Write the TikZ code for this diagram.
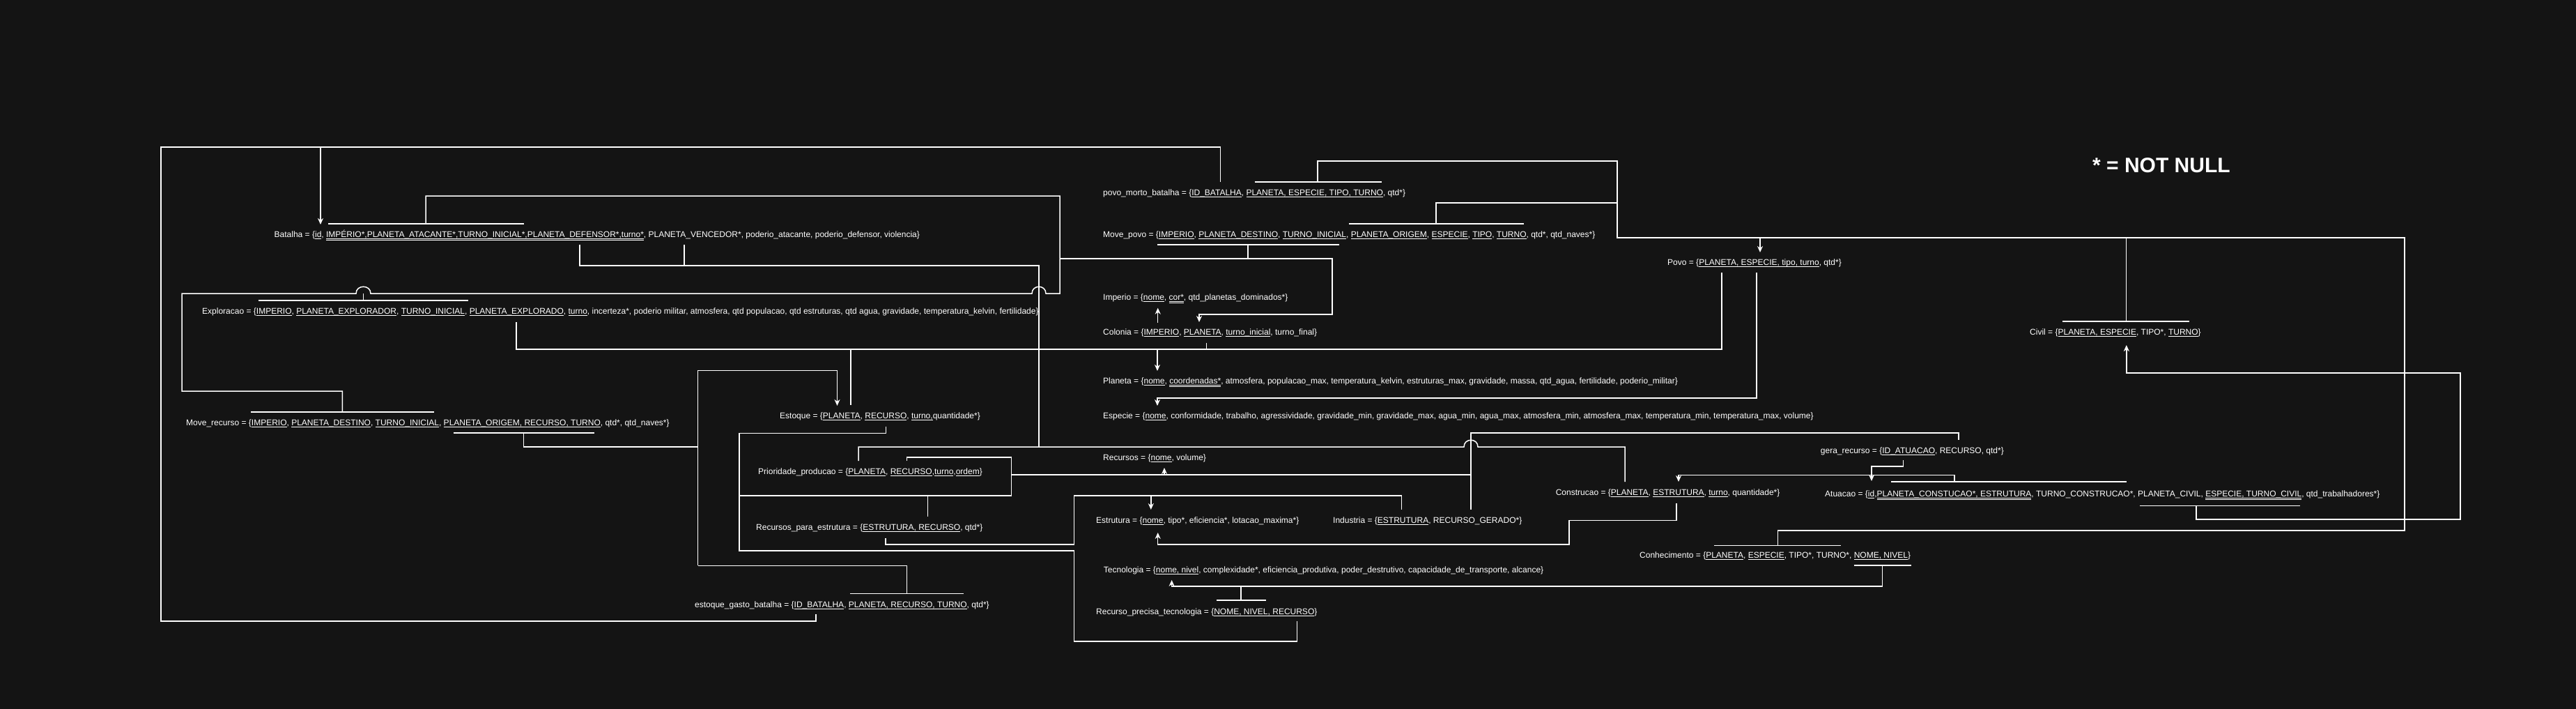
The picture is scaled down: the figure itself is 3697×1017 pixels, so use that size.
\documentclass[tikz,border=0pt]{standalone}
\usepackage{fontspec}
\setmainfont{Liberation Sans}
\usetikzlibrary{arrows.meta}
\definecolor{bg}{HTML}{141414}
\definecolor{fg}{HTML}{FFFFFF}
\newcommand\kU[1]{\leavevmode\setbox0\hbox{#1}\rlap{\rule[-2.4pt]{\wd0}{0.9pt}}\box0}
\newcommand\kUU[1]{\leavevmode\setbox0\hbox{#1}\rlap{\rule[-2.4pt]{\wd0}{0.9pt}}\rlap{\rule[-4.8pt]{\wd0}{0.9pt}}\box0}
\begin{document}
\begin{tikzpicture}[x=1pt,y=-1pt,
  wire/.style={draw=fg, line width=1.5pt},
  arr/.style={wire,-{Stealth[length=9pt,width=8pt]}},
  txt/.style={anchor=base west, inner sep=0pt, text=fg, font=\fontsize{12}{14}\selectfont}]
\fill[bg] (0,0) rectangle (3697,1017);
\useasboundingbox (0,0) rectangle (3697,1017);

% ---------- tables ----------
\node[txt] (batalha) at (393.5,340) {Batalha = \{\kU{id}, \kUU{IMPÉRIO*,PLANETA\_ATACANTE*,TURNO\_INICIAL*,PLANETA\_DEFENSOR*,turno*}, PLANETA\_VENCEDOR*, poderio\_atacante, poderio\_defensor, violencia\}};
\node[txt] (exploracao) at (290,450.3) {Exploracao = \{\kU{IMPERIO}, \kU{PLANETA\_EXPLORADOR}, \kU{TURNO\_INICIAL}, \kU{PLANETA\_EXPLORADO}, \kU{turno}, incerteza*, poderio militar, atmosfera, qtd populacao, qtd estruturas, qtd agua, gravidade, temperatura\_kelvin, fertilidade\}};
\node[txt] (moverec) at (267,610.3) {Move\_recurso = \{\kU{IMPERIO}, \kU{PLANETA\_DESTINO}, \kU{TURNO\_INICIAL}, \kU{PLANETA\_ORIGEM, RECURSO, TURNO}, qtd*, qtd\_naves*\}};
\node[txt] (estoque) at (1119,600.3) {Estoque = \{\kU{PLANETA}, \kU{RECURSO}, \kU{turno,} quantidade*\}};
\node[txt] (prioridade) at (1088,680.3) {Prioridade\_producao = \{\kU{PLANETA}, \kU{RECURSO},\kU{turno},\kU{ordem}\}};
\node[txt] (recest) at (1085,760) {Recursos\_para\_estrutura = \{\kU{ESTRUTURA, RECURSO}, qtd*\}};
\node[txt] (estgasto) at (997,871) {estoque\_gasto\_batalha = \{\kU{ID\_BATALHA}, \kU{PLANETA, RECURSO, TURNO}, qtd*\}};
\node[txt] (povomorto) at (1583,280.3) {povo\_morto\_batalha = \{\kU{ID\_BATALHA}, \kU{PLANETA, ESPECIE, TIPO, TURNO}, qtd*\}};
\node[txt] (movepovo) at (1583,340) {Move\_povo = \{\kU{IMPERIO}, \kU{PLANETA\_DESTINO}, \kU{TURNO\_INICIAL}, \kU{PLANETA\_ORIGEM}, \kU{ESPECIE}, \kU{TIPO}, \kU{TURNO}, qtd*, qtd\_naves*\}};
\node[txt] (imperio) at (1583,430.3) {Imperio = \{\kU{nome}, \kUU{cor*}, qtd\_planetas\_dominados*\}};
\node[txt] (colonia) at (1583,480) {Colonia = \{\kU{IMPERIO}, \kU{PLANETA}, \kU{turno\_inicial}, turno\_final\}};
\node[txt] (planeta) at (1583,550.3) {Planeta = \{\kU{nome}, \kUU{coordenadas*}, atmosfera, populacao\_max, temperatura\_kelvin, estruturas\_max, gravidade, massa, qtd\_agua, fertilidade, poderio\_militar\}};
\node[txt] (especie) at (1583,600.3) {Especie = \{\kU{nome}, conformidade, trabalho, agressividade, gravidade\_min, gravidade\_max, agua\_min, agua\_max, atmosfera\_min, atmosfera\_max, temperatura\_min, temperatura\_max, volume\}};
\node[txt] (recursos) at (1583,660) {Recursos = \{\kU{nome}, volume\}};
\node[txt] (estrutura) at (1573,750) {Estrutura = \{\kU{nome}, tipo*, eficiencia*, lotacao\_maxima*\}};
\node[txt] (industria) at (1913,750) {Industria = \{\kU{ESTRUTURA}, RECURSO\_GERADO*\}};
\node[txt] (tecnologia) at (1583.7,821) {Tecnologia = \{\kU{nome, nivel}, complexidade*, eficiencia\_produtiva, poder\_destrutivo, capacidade\_de\_transporte, alcance\}};
\node[txt] (recprec) at (1573,881) {Recurso\_precisa\_tecnologia = \{\kU{NOME, NIVEL, RECURSO}\}};
\node[txt] (povo) at (2393,380.3) {Povo = \{\kU{PLANETA, ESPECIE, tipo, turno}, qtd*\}};
\node[txt] (civil) at (2913,480.3) {Civil = \{\kU{PLANETA, ESPECIE}, TIPO*, \kU{TURNO}\}};
\node[txt] (gera) at (2612.7,650) {gera\_recurso = \{\kU{ID\_ATUACAO}, RECURSO, qtd*\}};
\node[txt] (construcao) at (2232.6,710) {Construcao = \{\kU{PLANETA}, \kU{ESTRUTURA}, \kU{turno}, quantidade*\}};
\node[txt] (atuacao) at (2619,712.3) {Atuacao = \{\kU{id},\kUU{PLANETA\_CONSTUCAO*, ESTRUTURA}, TURNO\_CONSTRUCAO*, PLANETA\_CIVIL, \kUU{ESPECIE, TURNO\_CIVIL}, qtd\_trabalhadores*\}};
\node[txt] (conhecimento) at (2353,800.3) {Conhecimento = \{\kU{PLANETA}, \kU{ESPECIE}, TIPO*, TURNO*, \kU{NOME, NIVEL}\}};
\node[anchor=base west, inner sep=0pt, text=fg, font=\fontsize{30}{34}\selectfont\bfseries] (notnull) at (3003,247) {* = NOT NULL};

% ---------- connectors ----------
\draw[wire] (1751.5,261) -- (1751.5,211) -- (231,211) -- (231,891) -- (1171,891) -- (1171,881);
\draw[arr] (460,211) -- (460,322);

\draw[wire] (471,321) -- (752,321);
\draw[wire] (611,321) -- (611,281) -- (1521,281) -- (1521,421) -- (1501,421)
  .. controls (1501,408) and (1481,408) .. (1481,421) -- (532,421)
  .. controls (532,408) and (511,408) .. (511,421) -- (261,421) -- (261,561) -- (491.4,561) -- (491.4,591);
\draw[wire] (371,431) -- (672,431);
\draw[wire] (521.5,431) -- (521.5,421);
\draw[wire] (360,591) -- (622.5,591);
\draw[arr] (1521,371) -- (1912,371) -- (1912,451) -- (1721,451) -- (1721,462);
\draw[wire] (1661,351) -- (1922,351);
\draw[wire] (1791,351) -- (1791,371);

\draw[wire] (832,351) -- (832,381) -- (1491,381) -- (1491,641);
\draw[wire] (982,351) -- (982,381);
\draw[wire] (1232,661) -- (1232,641) -- (2101,641)
  .. controls (2101,628) and (2121,628) .. (2121,641) -- (2332,641) -- (2332,691);

\draw[wire] (741,462) -- (741,501) -- (2471,501) -- (2471,391);
\draw[arr] (1661,501) -- (1661,532);
\draw[wire] (1221,501) -- (1221,581);
\draw[wire] (1731.6,491.7) -- (1731.6,501);

\draw[arr] (2521,391) -- (2521,571) -- (1661,571) -- (1661,582);

\draw[wire] (1800.5,261) -- (1982.6,261);
\draw[wire] (1891,261) -- (1891,231) -- (2321,231) -- (2321,341) -- (3451,341) -- (3451,761) -- (2551.4,761) -- (2551.4,782.3);
\draw[wire] (2460,782.3) -- (2642,782.3);
\draw[wire] (1935.7,321) -- (2187,321);
\draw[wire] (2061,321) -- (2061,291) -- (2321,291);
\draw[arr] (2526,341) -- (2526,362);
\draw[wire] (3051.5,341) -- (3051.5,461);
\draw[wire] (2960,461) -- (3142,461);

\draw[arr] (3152,725.7) -- (3152,745) -- (3531,745) -- (3531,535) -- (3051.8,535) -- (3051.8,495);
\draw[wire] (3071,725.7) -- (3301,725.7);

\draw[arr] (1661.7,463) -- (1661.7,441.7);

\draw[arr] (1001.6,811.3) -- (1001.6,531.7) -- (1201.5,531.7) -- (1201.5,582);
\draw[wire] (650.6,621) -- (852.7,621);
\draw[wire] (751.6,621) -- (751.6,641) -- (1001.6,641);
\draw[wire] (1001.6,811.3) -- (1301.4,811.3) -- (1301.4,851.3);
\draw[wire] (1220,851.3) -- (1382.5,851.3);

\draw[wire] (1271.4,611.7) -- (1271.4,621.3) -- (1061,621.3) -- (1061,790) -- (1541.6,790) -- (1541.6,920) -- (1861.5,920) -- (1861.5,891);
\draw[wire] (1301.5,661) -- (1301.5,656) -- (1451.6,656) -- (1451.6,711) -- (1061,711);
\draw[wire] (1331.6,711) -- (1331.6,741);
\draw[wire] (1451.6,681) -- (2111,681);
\draw[arr] (1671,681) -- (1671,671);
\draw[wire] (2811,631) -- (2811,621) -- (2111,621) -- (2111,730.7);

\draw[wire] (1271,771.7) -- (1271,781) -- (1541.6,781) -- (1541.6,711) -- (2011.5,711) -- (2011.5,731);
\draw[arr] (1651.8,711) -- (1651.8,731);
\draw[arr] (2406,721.7) -- (2406,746.7) -- (2251.8,746.7) -- (2251.8,781) -- (1661.7,781) -- (1661.7,764);

\draw[wire] (2660.5,811) -- (2742.8,811);
\draw[arr] (2701.5,811) -- (2701.5,841) -- (1681.6,841) -- (1681.6,832);
\draw[wire] (1746,861) -- (1817,861);
\draw[wire] (1781,861) -- (1781,841);

\draw[arr] (2805,691) -- (2805,681.3) -- (2409,681.3) -- (2409,691);
\draw[wire] (2714,691) -- (3051.5,691);

\draw[arr] (2731.6,660) -- (2731.6,669) -- (2686,669) -- (2686,690);
\end{tikzpicture}
\end{document}
